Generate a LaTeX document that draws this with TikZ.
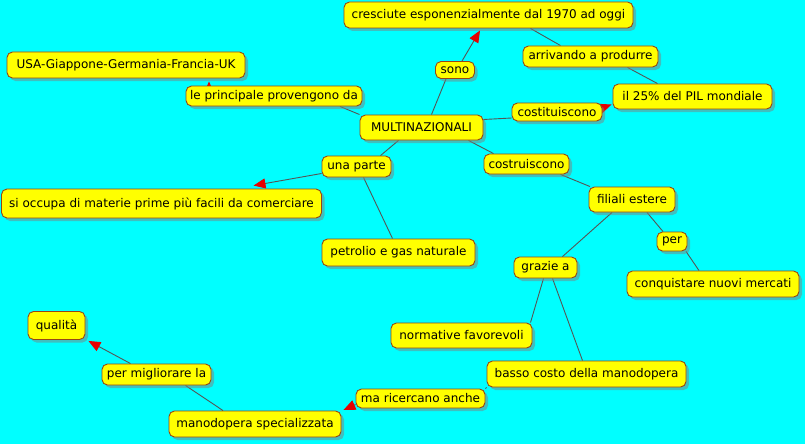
\documentclass[tikz,border=0pt]{standalone}
\usepackage{fontspec}
\setmainfont{DejaVu Sans}
\usetikzlibrary{arrows.meta,shadows}
\definecolor{bgc}{RGB}{0,255,255}
\definecolor{boxc}{RGB}{255,255,0}
\definecolor{edgec}{RGB}{150,70,20}
\definecolor{connc}{RGB}{85,85,85}
\definecolor{tipc}{RGB}{230,0,0}
\pgfdeclarelayer{ground}
\pgfdeclarelayer{back}
\pgfsetlayers{ground,back,main}
\begin{document}
\begin{tikzpicture}[x=1pt,y=-1pt,
  cbox/.style={draw=edgec, fill=boxc, rounded corners=5.5pt, line width=0.9pt,
    inner sep=0pt, font=\fontsize{12}{14}\selectfont,
    drop shadow={shadow xshift=3pt, shadow yshift=-3pt, fill=black!50, opacity=0.5}},
  conn/.style={draw=connc, line width=0.9pt},
  arr/.style={conn, -{Triangle[length=12pt,width=10pt,color=tipc]}}]
\begin{pgfonlayer}{ground}
\fill[bgc] (0,0) rectangle (805,444);
\end{pgfonlayer}
\useasboundingbox (0,0) rectangle (805,444);

\node[cbox, minimum width=289pt, minimum height=26pt] (cres) at (488.5,15) {cresciute esponenzialmente dal 1970 ad oggi};
\node[cbox, minimum width=238pt, minimum height=26pt] (usa) at (126,65) {USA-Giappone-Germania-Francia-UK};
\node[cbox, minimum width=176pt, minimum height=20pt] (le) at (274,96) {le principale provengono da};
\node[cbox, minimum width=39pt, minimum height=17pt] (sono) at (455,70) {sono};
\node[cbox, minimum width=135pt, minimum height=21pt] (arriv) at (590.5,56.5) {arrivando a produrre};
\node[cbox, minimum width=159pt, minimum height=25pt] (pil) at (692.5,96.5) {il 25\% del PIL mondiale};
\node[cbox, minimum width=90pt, minimum height=18pt] (costit) at (557,112) {costituiscono};
\node[cbox, minimum width=123pt, minimum height=25pt] (multi) at (421.5,127.5) {MULTINAZIONALI};
\node[cbox, minimum width=69pt, minimum height=21pt] (unap) at (356.5,166.5) {una parte};
\node[cbox, minimum width=85pt, minimum height=20pt] (costru) at (526.5,164) {costruiscono};
\node[cbox, minimum width=320pt, minimum height=29pt] (siocc) at (161.5,203.5) {si occupa di materie prime più facili da comerciare};
\node[cbox, minimum width=86pt, minimum height=25pt] (fil) at (632,199.5) {filiali estere};
\node[cbox, minimum width=153pt, minimum height=27pt] (petr) at (398.5,252.5) {petrolio e gas naturale};
\node[cbox, minimum width=30pt, minimum height=19pt] (per) at (672,241.5) {per};
\node[cbox, minimum width=63pt, minimum height=21pt] (graz) at (545.5,267.5) {grazie a};
\node[cbox, minimum width=172pt, minimum height=26pt] (conq) at (713,284) {conquistare nuovi mercati};
\node[cbox, minimum width=57pt, minimum height=28pt] (qual) at (56.5,325.5) {qualità};
\node[cbox, minimum width=141pt, minimum height=25pt] (norm) at (461.5,335.5) {normative favorevoli};
\node[cbox, minimum width=109pt, minimum height=21pt] (permig) at (156.5,374.5) {per migliorare la};
\node[cbox, minimum width=199pt, minimum height=26pt] (basso) at (586.5,374) {basso costo della manodopera};
\node[cbox, minimum width=129pt, minimum height=19pt] (mari) at (420.5,398.5) {ma ricercano anche};
\node[cbox, minimum width=172pt, minimum height=26pt] (manod) at (255,424) {manodopera specializzata};

\begin{pgfonlayer}{back}
\draw[conn] ([xshift=10pt]multi.north) -- ([xshift=-9pt]sono.south);
\draw[arr] ([xshift=7pt]sono.north) -- ([xshift=-8.5pt,yshift=-2pt]cres.south);
\draw[conn] ([xshift=42pt]cres.south) -- ([xshift=-30pt]arriv.north);
\draw[conn] ([xshift=37pt]arriv.south) -- ([xshift=-35pt]pil.north);
\draw[conn] ([yshift=8pt]multi.east) -- ([yshift=-6pt]costit.west);
\draw[arr] ([xshift=-14pt,yshift=-1pt]costit.east) -- ([xshift=-1pt,yshift=-8pt]pil.west);
\draw[conn] (multi.north west) -- ([xshift=66pt]le.south);
\draw[arr] ([xshift=-65pt,yshift=-8pt]le.north) -- ([xshift=83pt,yshift=-3pt]usa.south);
\draw[conn] ([xshift=-23pt]multi.south) -- ([xshift=24pt]unap.north);
\draw[arr] ([yshift=-7pt]unap.west) -- ([xshift=92pt,yshift=3pt]siocc.north);
\draw[conn] ([xshift=7pt]unap.south) -- ([xshift=-6pt]petr.north);
\draw[conn] ([xshift=47pt]multi.south) -- ([xshift=-33pt]costru.north);
\draw[conn] ([xshift=34pt]costru.south) -- ([xshift=-42pt]fil.north);
\draw[conn] ([xshift=-20pt]fil.south) -- ([xshift=17pt]graz.north);
\draw[conn] ([xshift=15pt]fil.south) -- ([xshift=-9pt]per.north);
\draw[conn] ([xshift=14pt]per.south) -- ([xshift=-14pt]conq.north);
\draw[conn] ([xshift=-2pt]graz.south) -- ([xshift=69pt]norm.north);
\draw[conn] ([xshift=7pt]graz.south) -- ([xshift=-4pt]basso.north);
\draw[conn] (basso.south west) -- (mari.north east);
\draw[arr] ([yshift=-6pt]mari.west) -- ([xshift=2pt,yshift=14pt]manod.east);
\draw[conn] ([xshift=-32pt]manod.north) -- ([xshift=29pt]permig.south);
\draw[arr] ([xshift=-26pt]permig.north) -- ([xshift=3pt,yshift=-1pt]qual.south east);
\end{pgfonlayer}
\end{tikzpicture}
\end{document}
